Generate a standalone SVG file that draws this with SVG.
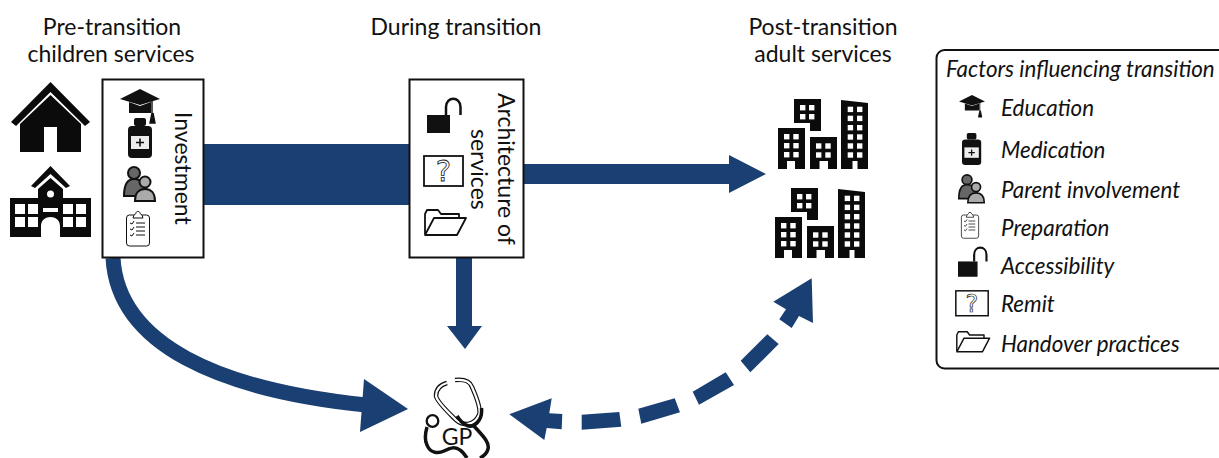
<svg xmlns="http://www.w3.org/2000/svg" width="1219" height="458" viewBox="0 0 1219 458">
<style>
text{font-family:Lato,"Noto Sans",sans-serif;fill:#111}
.h{font-size:23px;text-anchor:middle}
.r{font-size:23px}
.l{font-size:22.400px;font-style:italic}
.box{fill:#fff;stroke:#111;stroke-width:2}
.flow{fill:#1a3f72}
.line{fill:none;stroke:#1a3f72;stroke-width:15}
</style>
<defs>
<g id="cap"><path d="M0,10 L20,0 L40,10 L20,16Z" fill="#111"/><path d="M9,13 V24 H31 V13 L20,17Z" fill="#111"/><path d="M32,12 V24 M32,24 L30,34 H35 L33,24" fill="#111" stroke="#111" stroke-width="1.400"/></g>
<g id="bottle"><rect x="6" y="0" width="12" height="8" rx="2" fill="#111"/><rect x="0" y="8" width="24" height="32" rx="4" fill="#111"/><rect x="3" y="18" width="18" height="13" fill="#eee"/><path d="M12,20.500 V28.500 M8,24.500 H16" stroke="#111" stroke-width="1.600"/></g>
<g id="parents" stroke="#111" stroke-width="2"><circle cx="11" cy="7" r="6" fill="#666"/><path d="M1,30 C1,18 5,13 11,13 C18,13 24,18 24,30Z" fill="#666"/><circle cx="22" cy="16" r="5.500" fill="#aaa"/><path d="M12,35 C12,27 16,23 22,23 C28,23 32,27 32,35Z" fill="#aaa"/></g>
<g id="clip" fill="none" stroke="#111" stroke-width="1"><rect x="0.500" y="4" width="23" height="31" rx="3" fill="#fff"/><path d="M8,4 C9,3 10,3 10,2 C10,0 14,0 14,2 C14,3 15,3 16,4 L17,7 H7Z" fill="#fff"/><path d="M10,12 H19 M10,16 H19 M10,20 H19 M10,24 H19 M4,12 L6,13 L8,10 M4,18 L6,19 L8,16 M4,24 L6,25 L8,22"/></g>
<g id="lock"><rect x="0" y="17" width="23" height="18" fill="#111"/><path d="M19,17 V9 C19,-2 33.500,-2 33.500,9 V17" fill="none" stroke="#111" stroke-width="2.500"/></g>
<g id="remit"><rect x="1" y="1" width="39" height="30" fill="#fff" stroke="#111" stroke-width="1.800"/><text x="20.500" y="26" font-size="29" text-anchor="middle" style="font-family:'DejaVu Sans',sans-serif;fill:#fff;stroke:#111;stroke-width:.8">?</text></g>
<g id="folder" fill="none" stroke="#111" stroke-width="1.800" stroke-linejoin="round"><path d="M1,25 V5 L3,1 H14 L17,5 H35 V9"/><path d="M1,26 L10,9 H42 L33,26Z" fill="#fff"/></g>
<g id="blds" fill="#0b0b0b">
<path d="M0,29 H27 V70 H17 V62 H9 V70 H0Z"/><path d="M32,38 H59 V70 H50 V62 H41.500 V70 H32Z"/><path d="M63,1 L90,4 V70 H79.500 V62 H74.500 V70 H63Z"/><path d="M16,0 H43 V32 H32 V24 H16Z"/>
<g fill="#fff"><rect x="6" y="35" width="5.400" height="5.400"/><rect x="15.300" y="35" width="5.400" height="5.400"/><rect x="6" y="44" width="5.400" height="5.400"/><rect x="15.300" y="44" width="5.400" height="5.400"/><rect x="6" y="53" width="5.400" height="5.400"/><rect x="15.300" y="53" width="5.400" height="5.400"/><rect x="38" y="44.300" width="5.400" height="5.400"/><rect x="47.300" y="44.300" width="5.400" height="5.400"/><rect x="38" y="53.300" width="5.400" height="5.400"/><rect x="47.300" y="53.300" width="5.400" height="5.400"/><rect x="22" y="6" width="5.400" height="5.400"/><rect x="31" y="6" width="5.400" height="5.400"/><rect x="22" y="15" width="5.400" height="5.400"/><rect x="31" y="15" width="5.400" height="5.400"/><rect x="69.700" y="7.700" width="5.400" height="5.400"/><rect x="79" y="7.700" width="5.400" height="5.400"/><rect x="69.700" y="16.700" width="5.400" height="5.400"/><rect x="79" y="16.700" width="5.400" height="5.400"/><rect x="69.700" y="26" width="5.400" height="5.400"/><rect x="79" y="26" width="5.400" height="5.400"/><rect x="69.700" y="35.300" width="5.400" height="5.400"/><rect x="79" y="35.300" width="5.400" height="5.400"/><rect x="69.700" y="44.300" width="5.400" height="5.400"/><rect x="79" y="44.300" width="5.400" height="5.400"/><rect x="69.700" y="53.300" width="5.400" height="5.400"/><rect x="79" y="53.300" width="5.400" height="5.400"/></g></g>
</defs>

<g id="connectors">
<rect class="flow" x="204" y="144" width="205" height="61"/>
<path class="flow" d="M524,164 H729 V155 L766,174 L729,193 V184 H524Z"/>
<path class="flow" d="M456,258 H472 V326 H482 L465,349 L447,326 H456Z"/>
<path class="line" d="M113,258 C118,345 220,390 366,405"/>
<path class="flow" d="M364,379 L408,409 L360,432Z"/>
<path class="flow" d="M509.300,414.300 L551.700,398.300 L549.300,413.300 L562.300,414 L561.700,429.300 L546.700,428 L544.300,440Z"/>
<path class="flow" d="M581.700,414.700 L619.300,412 L621.300,426.700 L581.700,429.700Z"/>
<path class="flow" d="M638.300,408.700 L674.700,398.300 L680,412.300 L641.300,423.700Z"/>
<path class="flow" d="M692.700,391.700 L725.700,372.300 L734,385 L699,404.700Z"/>
<path class="flow" d="M740.700,360.700 L767.300,334.300 L778.700,344 L750.300,372.300Z"/>
<path class="flow" d="M779.300,319.300 L786,309.300 L773.300,301.700 L811.700,278.300 L813,323 L799,316 L791.700,328Z"/>
</g>

<g id="col-pre"><text class="h" x="112" y="35">Pre-transition</text><text class="h" x="111" y="62">children services</text></g>
<g id="col-during"><text class="h" x="456" y="35">During transition</text></g>
<g id="col-post"><text class="h" x="823" y="35">Post-transition</text><text class="h" x="823" y="62">adult services</text></g>

<g id="home" fill="#0b0b0b"><path d="M11,122 L50.500,82 L90,122 L85,126 L50.500,92 L16,126Z"/><path d="M20,152 V124 L50.500,95 L81,124 V152 H57 V127 H44 V152Z"/></g>
<g id="school" fill="#0b0b0b"><path d="M31,186 L50.500,166 L70,186 L66,188 L50.500,174 L35,188Z"/><path d="M38,198 V189 L50.500,178 L63,189 V198 H91 V237 H60 V226 C60,214 41,214 41,226 V237 H10 V198Z"/><g fill="#fff"><circle cx="50.500" cy="194" r="3.500"/><rect x="15" y="204" width="10" height="10"/><rect x="28" y="204" width="10" height="10"/><rect x="63" y="204" width="10" height="10"/><rect x="76" y="204" width="10" height="10"/><rect x="15" y="217" width="10" height="10"/><rect x="28" y="217" width="10" height="10"/><rect x="63" y="217" width="10" height="10"/><rect x="76" y="217" width="10" height="10"/><rect x="43" y="208" width="15" height="4"/></g></g>

<g id="investment"><rect class="box" x="102.500" y="79.500" width="101" height="178"/>
<use href="#cap" transform="translate(120,89)"/><use href="#bottle" transform="translate(128,118)"/><use href="#parents" transform="translate(123,166)"/><use href="#clip" transform="translate(126,211)"/>
<text class="r" transform="translate(175,112) rotate(90)">Investment</text></g>

<g id="architecture"><rect class="box" x="409.500" y="79.500" width="114" height="178"/>
<use href="#lock" transform="translate(427,98)"/><use href="#remit" transform="translate(423,155)"/><use href="#folder" transform="translate(424,209)"/>
<text class="r" transform="translate(498,93) rotate(90)">Architecture of</text>
<text class="r" transform="translate(471,129) rotate(90)">services</text></g>

<g id="adult-1"><use href="#blds" transform="translate(778,99)"/></g>
<g id="adult-2"><use href="#blds" transform="translate(775,188)"/></g>

<g id="gp"><path d="M447,383 C440,385 436,389 436,396 C437,402 448,412 456,420 C463,426 474,426 479,415 C481,410 476,396 472,387 C470,381 465,379 455,380" fill="none" stroke="#111" stroke-width="4.500"/><path d="M447,383 C440,385 436,389 436,396 C437,402 448,412 456,420 C463,426 474,426 479,415 C481,410 476,396 472,387 C470,381 465,379 455,380" fill="none" stroke="#fff" stroke-width="2.200"/>
<path d="M457,416 C462,424 470,430 477,423 C481,419 482,413 481.500,408 M474,426 C481,434 490,442 488,449 C487,453 484,456 480,458 M427,427 C425,434 425,441 427,445 C430,453 438,454 444,451 C450,448 455,446 460,450 C463,452 465,455 467,458" fill="none" stroke="#111" stroke-width="3.500"/><circle cx="432.500" cy="421" r="5.800" fill="#fff" stroke="#111" stroke-width="2.300"/>
<text x="457" y="445" font-size="23" text-anchor="middle">GP</text></g>

<g id="legend"><rect class="box" x="936.500" y="50" width="290" height="318.500" rx="8"/>
<text class="l" x="946" y="77">Factors influencing transition</text>
<use href="#cap" transform="translate(959,95) scale(.65)"/><text class="l" x="1001" y="116">Education</text>
<use href="#bottle" transform="translate(962,133) scale(.8)"/><text class="l" x="1001" y="158">Medication</text>
<use href="#parents" transform="translate(958,174) scale(.82)"/><text class="l" x="1001" y="198">Parent involvement</text>
<use href="#clip" transform="translate(961,212) scale(.75)"/><text class="l" x="1001" y="236">Preparation</text>
<use href="#lock" transform="translate(958,247) scale(.85)"/><text class="l" x="1001" y="274">Accessibility</text>
<use href="#remit" transform="translate(955,290) scale(.83)"/><text class="l" x="1001" y="312">Remit</text>
<use href="#folder" transform="translate(956,331) scale(.8)"/><text class="l" x="1001" y="352">Handover practices</text></g>
</svg>
